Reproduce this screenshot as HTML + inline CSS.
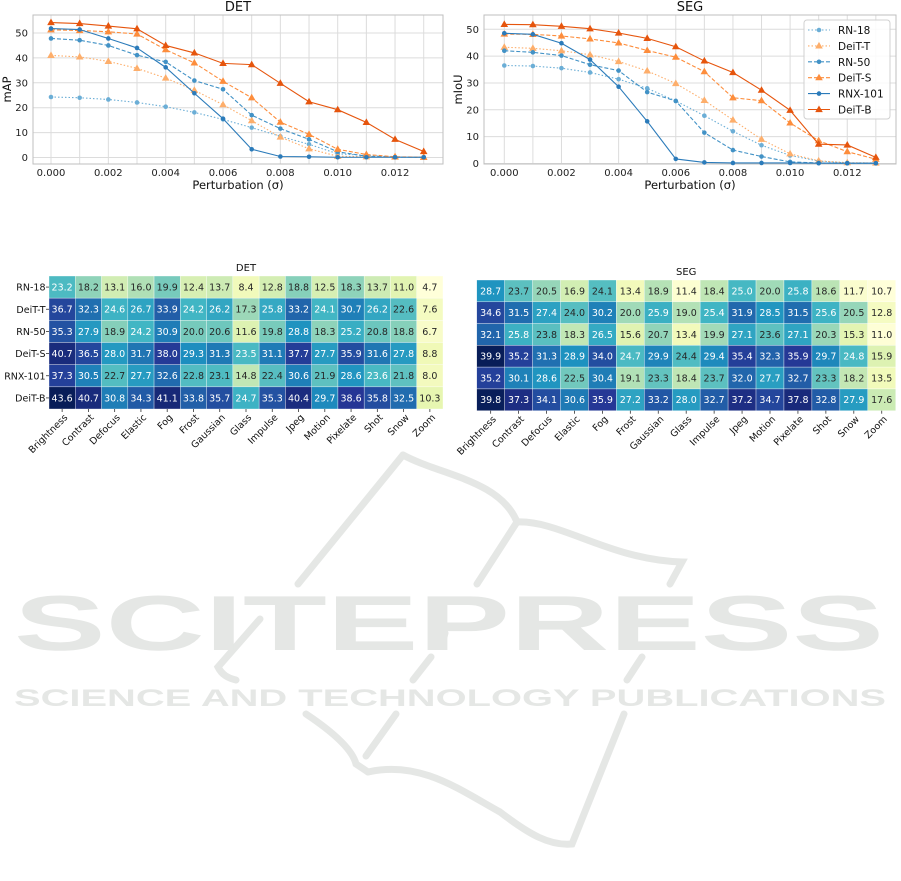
<!DOCTYPE html>
<html><head><meta charset="utf-8"><style>
html,body{margin:0;padding:0;background:#fff;}
svg{display:block;font-family:"DejaVu Sans","Liberation Sans",sans-serif;}
</style></head><body>
<svg id="s" width="901" height="881" xmlns="http://www.w3.org/2000/svg">
<g fill="none" stroke="#e5e7e5" stroke-width="7" stroke-linecap="round">
<path d="M403,455 L298,584"/>
<path d="M403,455 C440,475 500,480 517,522 C560,520 610,560 682,562 L670,584"/>
<path d="M517,522 L477,584"/>
<path d="M260,619 L218,667 C222,675 228,678 236,680"/>
<path d="M431,657 L413,680"/>
<path d="M642,657 L627,680"/>
<path d="M445,633 L442,645"/>
<path d="M306,714 C330,730 352,748 356,764 L368,772"/>
<path d="M396,714 L366,756"/>
<path d="M368,772 C420,760 460,790 500,812 C530,835 550,846 572,844 L624,714"/>
</g>
<text x="14" y="650" font-family="Liberation Sans,sans-serif" font-weight="bold" font-size="78" fill="#e5e7e5" textLength="870" lengthAdjust="spacingAndGlyphs">SCITEPRESS</text>
<text x="14" y="706" font-family="Liberation Sans,sans-serif" font-weight="bold" font-size="24" fill="#e5e7e5" textLength="872" lengthAdjust="spacingAndGlyphs">SCIENCE AND TECHNOLOGY PUBLICATIONS</text>
<g id="g"></g>
</svg>
<script>
var NS="http://www.w3.org/2000/svg",G=document.getElementById("g");
function el(t,a,txt,p){var e=document.createElementNS(NS,t);for(var k in a)e.setAttribute(k,a[k]);if(txt!=null)e.textContent=txt;(p||G).appendChild(e);return e;}
var names=["RN-18","DeiT-T","RN-50","DeiT-S","RNX-101","DeiT-B"];
var cols=["#6baed6","#fdae6b","#4292c6","#fd8d3c","#2b7bba","#e6550d"];
var dash=["1.5,2","1.5,2","4,2","4,2",null,null];
var det=[[24.3,24,23.3,22.1,20.4,18.1,15.3,12,8.5,5.3,1.5,0.8,0.2,0.1],
[41,40.4,38.6,35.8,31.9,27,21.2,14.8,8.2,3.5,0.5,0.3,0.2,0.1],
[47.8,47.1,45,41.1,38.4,30.9,27.4,17,11.6,7.3,2.3,0.5,0.2,0.1],
[51.3,51,50.5,49.6,43.3,38,30.6,24,14.2,9.3,3.3,1.2,0.3,0.1],
[51.8,51.4,47.8,44,36.2,25.8,15.6,3.3,0.4,0.3,0.1,0.1,0.1,0.1],
[54.2,53.8,52.8,51.7,45,42,37.8,37.3,29.8,22.4,19.2,14.1,7.3,2.4]];
var seg=[[36.5,36.3,35.5,33.9,31.4,28,23.3,17.8,12,6.8,3,0.9,0.2,0.1],
[43.3,42.9,42,40.5,38,34.5,29.8,23.5,16.2,9,3.6,1,0.3,0.2],
[42,41.4,40.2,36.8,34.6,26.6,23.3,11.5,5,2.6,0.6,0.2,0.1,0.1],
[48.2,48.1,47.5,46.4,44.9,42.1,39.6,34.2,24.5,23.4,15.1,8.5,4.4,1.6],
[48.5,48.1,44.8,38.7,28.6,15.7,1.7,0.4,0.2,0.2,0.2,0.1,0.1,0.1],
[51.8,51.7,51.1,50.2,48.6,46.6,43.5,38.2,33.9,27.3,19.8,7.2,6.9,2.3]];
function line(o){
 var X=function(i){return o.x0+i*o.dx;},Y=function(v){return o.y0-v*o.dy;};
 for(var i=0;i<=13;i++)el("line",{x1:X(i),x2:X(i),y1:o.t,y2:o.b,stroke:"#dcdcdc","stroke-width":1});
 for(var v=0;v<=50;v+=10)el("line",{x1:o.l,x2:o.r,y1:Y(v),y2:Y(v),stroke:"#dcdcdc","stroke-width":1});
 el("rect",{x:o.l,y:o.t,width:o.r-o.l,height:o.b-o.t,fill:"none",stroke:"#bfbfbf","stroke-width":1});
 for(var i=0;i<=12;i+=2)el("text",{x:X(i),y:o.b+12,"font-size":10,"text-anchor":"middle",fill:"#222"},(i/1000).toFixed(3));
 for(var v=0;v<=50;v+=10)el("text",{x:o.l-5,y:Y(v)+3.5,"font-size":10,"text-anchor":"end",fill:"#222"},v);
 el("text",{x:(o.l+o.r)/2,y:11,"font-size":13,"text-anchor":"middle",fill:"#111"},o.title);
 el("text",{x:(o.l+o.r)/2,y:o.b+25,"font-size":11.5,"text-anchor":"middle",fill:"#111"},"Perturbation (σ)");
 el("text",{x:0,y:0,"font-size":11.5,"text-anchor":"middle",fill:"#111",transform:"translate("+(o.l-22)+","+((o.t+o.b)/2)+") rotate(-90)"},o.yl);
 for(var s=0;s<6;s++){
  var d=o.data[s],pts=d.map(function(v,i){return X(i)+","+Y(v);}).join(" ");
  var a={points:pts,fill:"none",stroke:cols[s],"stroke-width":1.1};if(dash[s])a["stroke-dasharray"]=dash[s];
  el("polyline",a);
  d.forEach(function(v,i){mark(s,X(i),Y(v));});
 }
}
function mark(s,x,y){
 if(s%2==0)el("circle",{cx:x,cy:y,r:2.3,fill:cols[s]});
 else el("polygon",{points:(x)+","+(y-4)+" "+(x-3.8)+","+(y+2.6)+" "+(x+3.8)+","+(y+2.6),fill:cols[s]});
}
line({l:33,r:443,t:15,b:164,x0:51,dx:28.67,y0:157.5,dy:2.49,data:det,title:"DET",yl:"mAP"});
line({l:484,r:896,t:15,b:164,x0:504.3,dx:28.58,y0:163.5,dy:2.685,data:seg,title:"SEG",yl:"mIoU"});
el("rect",{x:804,y:20,width:86,height:99,rx:3,fill:"#fff","fill-opacity":0.85,stroke:"#d0d0d0"});
for(var s=0;s<6;s++){var y=30+s*15.9;var a={x1:808,x2:830,y1:y,y2:y,stroke:cols[s],"stroke-width":1.1};if(dash[s])a["stroke-dasharray"]=dash[s];el("line",a);mark(s,819,y);
 el("text",{x:838,y:y+4,"font-size":10.5,fill:"#111"},names[s]);}
var stops=["#ffffd9","#edf8b1","#c7e9b4","#7fcdbb","#41b6c4","#1d91c0","#225ea8","#253494","#081d58"].map(function(h){return [parseInt(h.substr(1,2),16),parseInt(h.substr(3,2),16),parseInt(h.substr(5,2),16)];});
function cmap(t){t=Math.max(0,Math.min(1,t))*8;var i=Math.min(7,Math.floor(t)),f=t-i,a=stops[i],b=stops[i+1];return [0,1,2].map(function(k){return Math.round(a[k]+(b[k]-a[k])*f);});}
function lum(c){var r=c.map(function(v){v/=255;return v<=0.03928?v/12.92:Math.pow((v+0.055)/1.055,2.4);});return 0.2126*r[0]+0.7152*r[1]+0.0722*r[2];}
var cats=["Brightness","Contrast","Defocus","Elastic","Fog","Frost","Gaussian","Glass","Impulse","Jpeg","Motion","Pixelate","Shot","Snow","Zoom"];
var H1=[[23.2,18.2,13.1,16.0,19.9,12.4,13.7,8.4,12.8,18.8,12.5,18.3,13.7,11.0,4.7],
[36.7,32.3,24.6,26.7,33.9,24.2,26.2,17.3,25.8,33.2,24.1,30.7,26.2,22.6,7.6],
[35.3,27.9,18.9,24.2,30.9,20.0,20.6,11.6,19.8,28.8,18.3,25.2,20.8,18.8,6.7],
[40.7,36.5,28.0,31.7,38.0,29.3,31.3,23.5,31.1,37.7,27.7,35.9,31.6,27.8,8.8],
[37.3,30.5,22.7,27.7,32.6,22.8,23.1,14.8,22.4,30.6,21.9,28.6,23.6,21.8,8.0],
[43.6,40.7,30.8,34.3,41.1,33.8,35.7,24.7,35.3,40.4,29.7,38.6,35.8,32.5,10.3]];
var H2=[[28.7,23.7,20.5,16.9,24.1,13.4,18.9,11.4,18.4,25.0,20.0,25.8,18.6,11.7,10.7],
[34.6,31.5,27.4,24.0,30.2,20.0,25.9,19.0,25.4,31.9,28.5,31.5,25.6,20.5,12.8],
[32.1,25.8,23.8,18.3,26.5,15.6,20.7,13.4,19.9,27.1,23.6,27.1,20.3,15.3,11.0],
[39.9,35.2,31.3,28.9,34.0,24.7,29.9,24.4,29.4,35.4,32.3,35.9,29.7,24.8,15.9],
[35.2,30.1,28.6,22.5,30.4,19.1,23.3,18.4,23.7,32.0,27.7,32.7,23.3,18.2,13.5],
[39.8,37.3,34.1,30.6,35.9,27.2,33.2,28.0,32.7,37.2,34.7,37.8,32.8,27.9,17.6]];
function heat(o){
 var w=(o.r-o.l)/15,h=(o.b-o.t)/6,mn=1e9,mx=-1e9;
 o.d.forEach(function(r){r.forEach(function(v){mn=Math.min(mn,v);mx=Math.max(mx,v);});});
 for(var i=0;i<6;i++)for(var j=0;j<15;j++){var v=o.d[i][j],c=cmap((v-mn)/(mx-mn));
  el("rect",{x:o.l+j*w,y:o.t+i*h,width:w,height:h,fill:"rgb("+c+")",stroke:"#fff","stroke-width":0.5,"stroke-opacity":0.7});
  el("text",{x:o.l+j*w+w/2,y:o.t+i*h+h/2+3.4,"font-size":9.5,"text-anchor":"middle",fill:lum(c)>0.408?"#262626":"#fff"},v.toFixed(1));}
 el("text",{x:(o.l+o.r)/2,y:o.t-5,"font-size":10,"text-anchor":"middle",fill:"#111"},o.title);
 for(var j=0;j<15;j++){var cx=o.l+j*w+w/2;el("line",{x1:cx,x2:cx,y1:o.b,y2:o.b+3,stroke:"#333","stroke-width":0.8});
  el("text",{x:0,y:0,"font-size":9.5,"text-anchor":"end",fill:"#111",transform:"translate("+(cx+6)+","+(o.b+9)+") rotate(-45)"},cats[j]);}
 if(o.rows)for(var i=0;i<6;i++){var cy=o.t+i*h+h/2;el("line",{x1:o.l-3,x2:o.l,y1:cy,y2:cy,stroke:"#333","stroke-width":0.8});
  el("text",{x:o.l-3.5,y:cy+3.5,"font-size":9.5,"text-anchor":"end",fill:"#111"},names[i]);}
}
heat({l:49,r:443,t:276,b:409,d:H1,title:"DET",rows:true});
heat({l:476.7,r:895.7,t:280,b:410.7,d:H2,title:"SEG",rows:false});
</script>
</body></html>
